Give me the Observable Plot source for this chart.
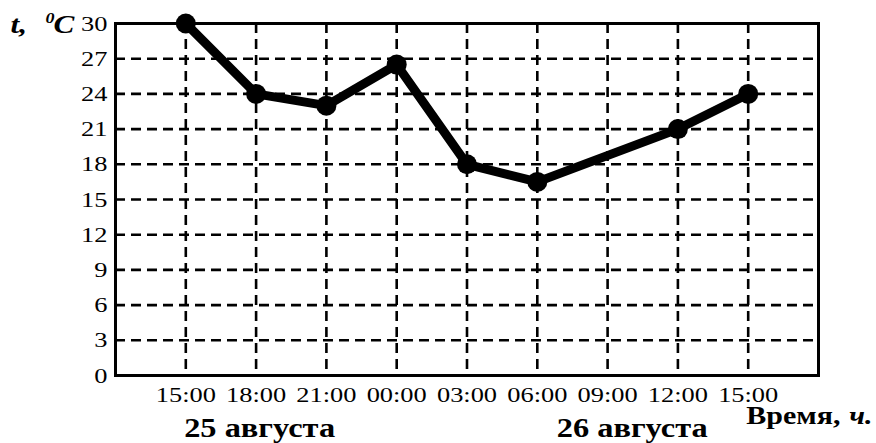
<!DOCTYPE html>
<html>
<head>
<meta charset="utf-8">
<script src="https://cdn.jsdelivr.net/npm/d3@7"></script>
<script src="https://cdn.jsdelivr.net/npm/@observablehq/plot@0.6"></script>
<style>
  html, body { margin: 0; padding: 0; background: #fff; }
  #chart svg { display: block; }
</style>
</head>
<body>
<div id="chart"></div>
<script>
// Time-of-day tick labels (25 Aug 15:00 → 26 Aug 15:00)
const times = ["15:00", "18:00", "21:00", "00:00", "03:00", "06:00", "09:00", "12:00", "15:00"];
// Temperature, °C (no reading at 09:00)
const temps = [30, 24, 23, 26.5, 18, 16.5, null, 21, 24];
// Y ticks
const yTicks = [0, 3, 6, 9, 12, 15, 18, 21, 24, 27, 30];
// Date captions
const dates = ["25 августа", "26 августа"];

const data = times.map((t, i) => ({i, t, v: temps[i]}));
const measured = data.filter(d => d.v != null);

const FONT = "'Liberation Serif', 'Times New Roman', serif";
const label = {fontWeight: "bold", fill: "#000", lineAnchor: "bottom"};

const chart = Plot.plot({
  width: 876,
  height: 443,
  marginTop: 23,
  marginLeft: 115,
  marginRight: 58,
  marginBottom: 68,
  style: {fontFamily: FONT, fontSize: "22px", color: "#000", background: "#fff"},
  x: {domain: [-1, 9], axis: null},
  y: {domain: [0, 30], axis: null},
  marks: [
    Plot.gridX(d3.range(times.length), {stroke: "#000", strokeOpacity: 1, strokeWidth: 2.6, strokeDasharray: "10,6"}),
    Plot.gridY(yTicks.slice(1, -1), {stroke: "#000", strokeOpacity: 1, strokeWidth: 2.6, strokeDasharray: "10,6"}),
    Plot.axisX(d3.range(times.length), {tickSize: 0, tickPadding: 11, tickFormat: i => times[i], fontSize: 22, fill: "#000", label: null}),
    Plot.axisY(yTicks, {tickSize: 0, tickPadding: 8, fontSize: 22, fill: "#000", label: null}),
    Plot.frame({stroke: "#000", strokeWidth: 3}),
    Plot.line(measured, {x: "i", y: "v", stroke: "#000", strokeWidth: 9, strokeLinejoin: "round", strokeLinecap: "round"}),
    Plot.dot(measured, {x: "i", y: "v", r: 10, fill: "#000"}),
    Plot.text(dates, {...label, x: (d, i) => [1.05, 6.35][i], y: () => 0, text: d => d, dy: 61, fontSize: 27}),
    // y-axis unit label "t, ⁰C"
    Plot.text(["t,"], {...label, frameAnchor: "top-left", dx: -105, dy: 9, textAnchor: "start", fontSize: 26, fontStyle: "italic"}),
    Plot.text(["0"], {...label, frameAnchor: "top-left", dx: -70, dy: -1, textAnchor: "start", fontSize: 15, fontStyle: "italic"}),
    Plot.text(["C"], {...label, frameAnchor: "top-left", dx: -62, dy: 9, textAnchor: "start", fontSize: 26, fontStyle: "italic"}),
    // x-axis title "Время, ч."
    Plot.text(["Время,"], {...label, frameAnchor: "bottom-right", dx: 22, dy: 48, textAnchor: "end", fontSize: 25}),
    Plot.text(["ч."], {...label, frameAnchor: "bottom-right", dx: 54, dy: 48, textAnchor: "end", fontSize: 25, fontStyle: "italic"})
  ]
});

// The reference typography is horizontally stretched; widen each text around its own anchor.
const S = 1.2;
chart.querySelectorAll("text").forEach(t => {
  const tr = t.getAttribute("transform") || "";
  t.setAttribute("transform", `${tr} scale(${S},1)`);
});

document.getElementById("chart").appendChild(chart);
</script>
</body>
</html>
